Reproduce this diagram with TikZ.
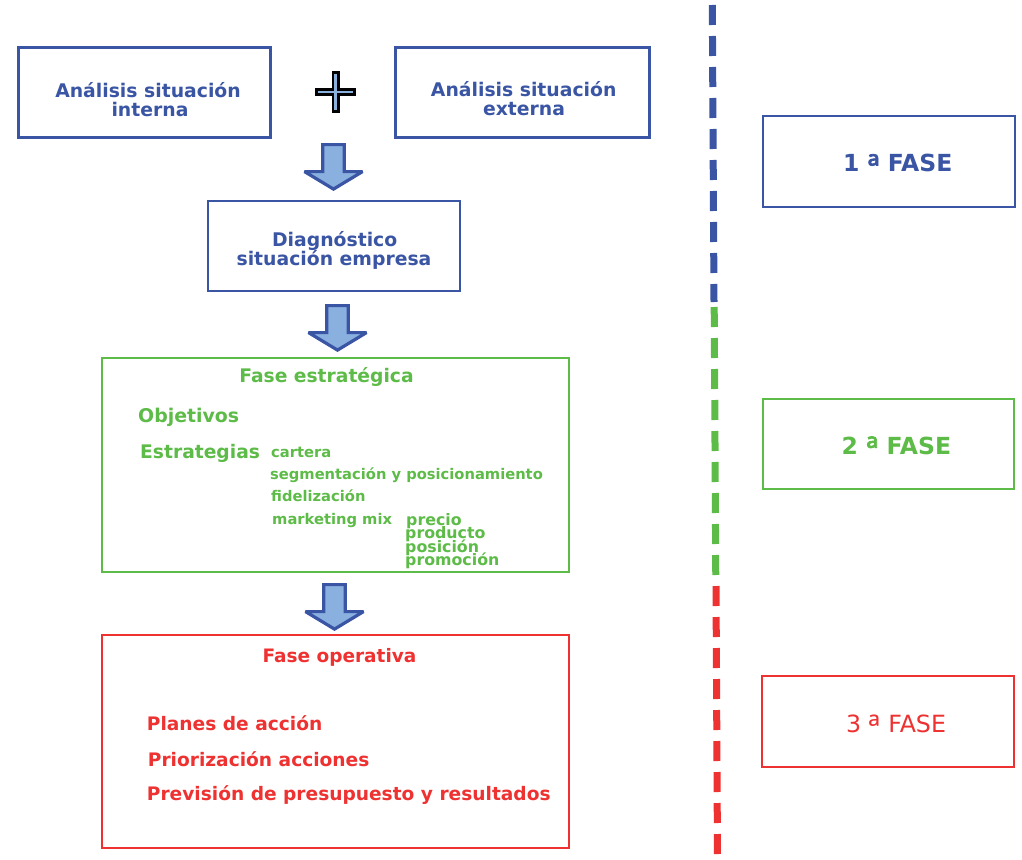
\documentclass[tikz,border=0pt]{standalone}
\usepackage{fontspec}
\setmainfont{DejaVu Sans}
\newfontfamily\ordfont{Noto Sans}
\newfontfamily\ordfontb[FakeBold=2.2]{Noto Sans}
\usetikzlibrary{calc}
\definecolor{cblue}{HTML}{3A55A4}
\definecolor{cgreen}{HTML}{5DBB47}
\definecolor{cred}{HTML}{EE3131}
\definecolor{clight}{HTML}{8AB0DF}
\newcommand{\ordA}{\raisebox{-7pt}{\ordfont\mdseries\fontsize{34}{34}\selectfont ª}}
\newcommand{\ordAb}{\raisebox{-7pt}{\ordfontb\mdseries\fontsize{34}{34}\selectfont ª}}
\tikzset{
  boxx/.style={draw=#1, line width=2.2pt, inner sep=0pt, rectangle, fill=white},
  txtb/.style={font=\bfseries\fontsize{#1}{#1}\selectfont, anchor=base, inner sep=0pt},
  txtbw/.style={font=\bfseries\fontsize{#1}{#1}\selectfont, anchor=base west, inner sep=0pt},
  downarr/.pic={
    \draw[line width=3.2pt, draw=cblue, fill=clight, line join=miter, miter limit=3]
      (-10.8,0) -- (10.8,0) -- (10.8,27) -- (29,27) -- (0,44.5)
      -- (-29,27) -- (-10.8,27) -- cycle;
  },
  phasedash/.style={draw=#1, line width=7pt, dash pattern=on 20pt off 11pt, line cap=butt}
}
\begin{document}
\begin{tikzpicture}[x=1pt,y=-1pt]
\useasboundingbox (0,0) rectangle (1022,859);

% ---- left column boxes
\node[boxx=cblue, minimum width=252, minimum height=90] (ai) at (144.5,92.5) {};
\node[txtb=18.8, text=cblue] (ai1) at (148,97.3) {Análisis situación};
\node[txtb=18.8, text=cblue] (ai2) at (150,116) {interna};

\node[boxx=cblue, minimum width=254, minimum height=90] (ae) at (522.5,92.5) {};
\node[txtb=18.8, text=cblue] (ae1) at (523.7,96.7) {Análisis situación};
\node[txtb=18.8, text=cblue] (ae2) at (524,115) {externa};

% plus sign
\coordinate (plus) at (335.5,92);
\draw[line width=2.8pt, draw=black, fill=clight, line join=miter] ($(plus)+(-2.6,-19.6)$) -- ++(5.2,0) -- ++(0,17) -- ++(16.6,0) -- ++(0,5.2) -- ++(-16.6,0) -- ++(0,17) -- ++(-5.2,0) -- ++(0,-17) -- ++(-16.6,0) -- ++(0,-5.2) -- ++(16.6,0) -- cycle;

\node[boxx=cblue, minimum width=252, minimum height=90] (dg) at (334,246) {};
\node[txtb=18.8, text=cblue] (dg1) at (334.7,246.7) {Diagnóstico};
\node[txtb=18.8, text=cblue] (dg2) at (334,265.7) {situación empresa};

% green strategic box
\node[boxx=cgreen, minimum width=467, minimum height=214] (fe) at (335.5,465) {};
\node[txtb=18.7, text=cgreen] (fe0) at (326.5,382) {Fase estratégica};
\node[txtbw=18.9, text=cgreen] (obj) at (138,422) {Objetivos};
\node[txtbw=18.7, text=cgreen] (est) at (140,458) {Estrategias};
\node[txtbw=14.7, text=cgreen] (s1) at (271,457) {cartera};
\node[txtbw=14.7, text=cgreen] (s2) at (270,479) {segmentación y posicionamiento};
\node[txtbw=14.7, text=cgreen] (s3) at (271,501) {fidelización};
\node[txtbw=14.7, text=cgreen] (s4) at (272,524) {marketing mix};
\node[txtbw=15.8, text=cgreen] (m1) at (406,525.5) {precio};
\node[txtbw=15.8, text=cgreen] (m2) at (405,538.5) {producto};
\node[txtbw=15.8, text=cgreen] (m3) at (405,552) {posición};
\node[txtbw=15.8, text=cgreen] (m4) at (405,565) {promoción};

% red operative box
\node[boxx=cred, minimum width=467, minimum height=213] (fo) at (335.5,741.5) {};
\node[txtb=18.5, text=cred] (fo0) at (339.5,662) {Fase operativa};
\node[txtbw=18.6, text=cred] (o1) at (146.7,730) {Planes de acción};
\node[txtbw=18.6, text=cred] (o2) at (147.7,766) {Priorización acciones};
\node[txtbw=18.6, text=cred] (o3) at (146.7,800) {Previsión de presupuesto y resultados};

% block arrows
\coordinate (a1) at (333.5,144.6);
\coordinate (a2) at (337.5,305.6);
\coordinate (a3) at (334.5,584.6);
\pic at (a1) {downarr};
\pic at (a2) {downarr};
\pic at (a3) {downarr};

% divider
\coordinate (d0) at (712.3,5);
\coordinate (d1) at (714,302);
\coordinate (d2) at (714.2,307);
\coordinate (d3) at (715.8,582);
\coordinate (d4) at (716,586);
\coordinate (d5) at (717.5,859);
\draw[phasedash=cblue] (d0) -- (d1);
\draw[phasedash=cgreen] (d2) -- (d3);
\draw[phasedash=cred] (d4) -- (d5);

% phase boxes
\node[boxx=cblue, minimum width=252, minimum height=91] (f1) at (889,161.5) {};
\node[txtb=23.5, text=cblue] (f1t) at (897.7,171.7) {1 \ordAb{} FASE};
\node[boxx=cgreen, minimum width=251, minimum height=90] (f2) at (888.5,444) {};
\node[txtb=23.5, text=cgreen] (f2t) at (896.4,454) {2 \ordAb{} FASE};
\node[boxx=cred, minimum width=252, minimum height=91] (f3) at (888,721.5) {};
\node[anchor=base, inner sep=0pt, font=\fontsize{23.7}{23.7}\selectfont, text=cred] (f3t) at (896,732.3) {3 \ordA{} FASE};
\end{tikzpicture}
\end{document}
